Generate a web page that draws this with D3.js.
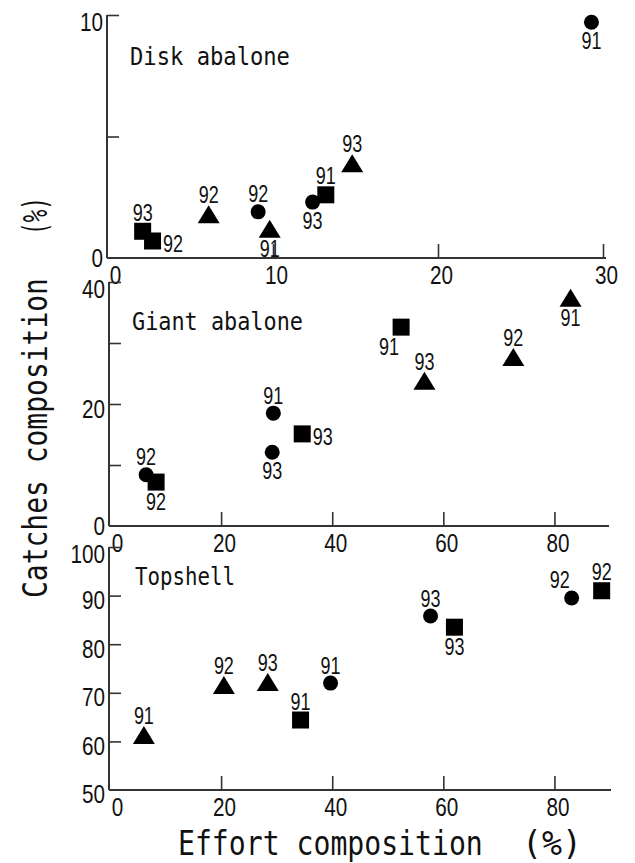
<!DOCTYPE html>
<html>
<head>
<meta charset="utf-8">
<script src="https://cdn.jsdelivr.net/npm/d3@7"></script>
<style>
  html, body { margin: 0; padding: 0; background: #fff; }
  svg { display: block; }
  .tick text, .pt-label { font-family: "Liberation Sans Narrow", "Arial Narrow", "Liberation Sans", sans-serif; fill: #111; }
  .mono { font-family: "DejaVu Sans Mono", "Liberation Mono", monospace; fill: #111; }
</style>
</head>
<body>
<script>
// Disk abalone
const diskEffort = [2.1, 2.7, 6.1, 9.1, 9.8, 12.4, 13.2, 14.8, 29.3];
const diskCatch  = [1.1, 0.7, 1.8, 1.9, 1.2, 2.3, 2.6, 3.9, 9.7];
const diskYear   = [93, 92, 92, 92, 91, 93, 91, 93, 91];
const diskSymbol = ["square", "square", "triangle", "circle", "triangle", "circle", "square", "triangle", "circle"];
const diskPlace  = ["n", "e", "n", "n", "s", "s", "n", "n", "s"];

// Giant abalone
const giantEffort = [6.5, 8.3, 29.4, 29.2, 34.6, 52.4, 56.6, 72.6, 82.9];
const giantCatch  = [8.4, 7.2, 18.5, 12.1, 15.1, 32.6, 23.8, 27.7, 37.4];
const giantYear   = [92, 92, 91, 93, 93, 91, 93, 92, 91];
const giantSymbol = ["circle", "square", "circle", "circle", "square", "square", "triangle", "triangle", "triangle"];
const giantPlace  = ["n", "s", "n", "s", "e", "sw", "n", "n", "s"];

// Topshell
const topEffort = [6.1, 20.5, 28.4, 34.3, 39.7, 57.7, 62.0, 83.1, 88.5];
const topCatch  = [61.3, 71.6, 72.2, 64.4, 72.0, 85.8, 83.5, 89.5, 91.0];
const topYear   = [91, 92, 93, 91, 91, 93, 93, 92, 92];
const topSymbol = ["triangle", "triangle", "triangle", "square", "circle", "circle", "square", "circle", "square"];
const topPlace  = ["n", "n", "n", "n", "n", "n", "s", "nw", "n"];

// Axis ticks and labelled tick values
const diskXTicks = [0, 10, 20, 30], diskYTicks = [0, 5, 10], diskYLabels = [0, 10];
const giantXTicks = [0, 20, 40, 60, 80], giantYTicks = [0, 10, 20, 30, 40], giantYLabels = [0, 20, 40];
const topXTicks = [0, 20, 40, 60, 80], topYTicks = [50, 60, 70, 80, 90, 100], topYLabels = [50, 60, 70, 80, 90, 100];

const W = 635, H = 863;
const svg = d3.select("body").append("svg").attr("width", W).attr("height", H);

const panels = [
  { name: "Disk abalone", effort: diskEffort, catches: diskCatch, year: diskYear, symbol: diskSymbol, place: diskPlace,
    xDomain: [0, 30], xRange: [108, 603], xEnd: 606, yDomain: [0, 10], yRange: [258, 15],
    xTicks: diskXTicks, yTicks: diskYTicks, yLabels: diskYLabels,
    title: { x: 130, y: 65, len: 160 } },
  { name: "Giant abalone", effort: giantEffort, catches: giantCatch, year: giantYear, symbol: giantSymbol, place: giantPlace,
    xDomain: [0, 90], xRange: [110, 610], xEnd: 609, yDomain: [0, 40], yRange: [526, 282],
    xTicks: giantXTicks, yTicks: giantYTicks, yLabels: giantYLabels,
    title: { x: 132, y: 330, len: 171 } },
  { name: "Topshell", effort: topEffort, catches: topCatch, year: topYear, symbol: topSymbol, place: topPlace,
    xDomain: [0, 90], xRange: [110, 610], xEnd: 611, yDomain: [50, 100], yRange: [790, 547],
    xTicks: topXTicks, yTicks: topYTicks, yLabels: topYLabels,
    title: { x: 135, y: 585, len: 100 } }
];

const axisColor = "#333";
const tickSize = 25, tickCharW = 11.5;
const labelSize = 23, labelCharW = 10, capH = 16.5;
const symSize = { circle: 7.5, square: 8.5, triangle: 9 };

// squeeze a text to a given advance by scaling it along its reading direction
function fitText(sel, x, y, target, rotate) {
  const natural = sel.node().getComputedTextLength();
  const s = target / natural;
  sel.attr("transform", `translate(${x},${y})${rotate ? " rotate(-90)" : ""} scale(${s},1)`);
}

panels.forEach((p, pi) => {
  const x = d3.scaleLinear().domain(p.xDomain).range(p.xRange);
  const y = d3.scaleLinear().domain(p.yDomain).range(p.yRange);
  const g = svg.append("g");
  const x0 = p.xRange[0], y0 = p.yRange[0];

  // axis lines
  g.append("line").attr("x1", x0 - 1).attr("x2", p.xEnd).attr("y1", y0).attr("y2", y0)
    .attr("stroke", axisColor).attr("stroke-width", 2);
  g.append("line").attr("x1", x0 - 1).attr("x2", x0 - 1).attr("y1", y0).attr("y2", p.yRange[1])
    .attr("stroke", axisColor).attr("stroke-width", 2);

  // y ticks (inward) and labels
  const yAxis = d3.axisLeft(y).tickValues(p.yTicks).tickSizeInner(-12).tickSizeOuter(0).tickPadding(4)
    .tickFormat(d => p.yLabels.includes(d) ? d : "");
  const ya = g.append("g").attr("transform", `translate(${x0 - 1},0)`).call(yAxis);
  ya.select(".domain").remove();
  ya.selectAll(".tick line").attr("stroke", axisColor).attr("stroke-width", 1.6)
    .filter(d => d === p.yDomain[0]).remove();
  ya.selectAll(".tick text").attr("font-size", tickSize)
    .attr("dy", d => {
      // baseline offset below the tick: top label sits lower, bottom label higher
      if (d === p.yDomain[1]) return 15;
      if (d === p.yDomain[0]) return pi === 2 ? 12 : 8;
      return 13;
    })
    .filter(function () { return this.textContent.length > 0; })
    .attr("textLength", function () { return this.textContent.length * tickCharW; })
    .attr("lengthAdjust", "spacingAndGlyphs");

  // x ticks (inward) and labels
  const xAxis = d3.axisBottom(x).tickValues(p.xTicks).tickSizeInner(-14).tickSizeOuter(0).tickPadding(8);
  const xa = g.append("g").attr("transform", `translate(0,${y0})`).call(xAxis);
  xa.select(".domain").remove();
  xa.selectAll(".tick line").attr("stroke", axisColor).attr("stroke-width", 1.6)
    .filter(d => d === 0).remove();
  xa.selectAll(".tick text").attr("font-size", tickSize).attr("dy", "0.71em")
    .attr("dx", d => d === 0 ? 7 : 3)
    .attr("textLength", function () { return this.textContent.length * tickCharW; })
    .attr("lengthAdjust", "spacingAndGlyphs");

  // panel title
  const t = g.append("text").attr("class", "mono").attr("font-size", 25).text(p.name);
  fitText(t, p.title.x, p.title.y, p.title.len, false);

  // points
  const pts = p.effort.map((e, i) => ({ e, c: p.catches[i], yr: p.year[i], s: p.symbol[i], pl: p.place[i] }));
  const sym = g.selectAll("g.pt").data(pts).join("g").attr("class", "pt")
    .attr("transform", d => `translate(${x(d.e)},${y(d.c)})`);
  sym.each(function (d) {
    const s = d3.select(this);
    if (d.s === "circle") {
      s.append("circle").attr("r", symSize.circle).attr("fill", "#000");
    } else if (d.s === "square") {
      const h = symSize.square;
      s.append("rect").attr("x", -h).attr("y", -h).attr("width", 2 * h).attr("height", 2 * h).attr("fill", "#000");
    } else {
      const h = symSize.triangle;
      s.append("path").attr("d", `M0,${-h}L${h + 2},${h}L${-h - 2},${h}Z`).attr("fill", "#000");
    }
  });

  // year labels next to each point
  g.selectAll("text.pt-label").data(pts).join("text").attr("class", "pt-label")
    .attr("font-size", labelSize)
    .attr("text-anchor", d => d.pl === "e" ? "start" : "middle")
    .attr("textLength", 2 * labelCharW).attr("lengthAdjust", "spacingAndGlyphs")
    .attr("x", d => {
      const cx = x(d.e), h = symSize[d.s];
      if (d.pl === "e") return cx + h + 2;
      if (d.pl === "sw" || d.pl === "nw") return cx - 12;
      return cx;
    })
    .attr("y", d => {
      const cy = y(d.c), h = symSize[d.s];
      if (d.pl === "e") return cy + capH / 2 + 3;
      if (d.pl === "s" || d.pl === "sw") return cy + h + 2.5 + capH;
      if (d.pl === "nw") return cy - 10;
      return cy - h - 2;
    })
    .text(d => d.yr);
});

// axis titles
fitText(svg.append("text").attr("class", "mono").attr("font-size", 34).text("Catches composition"), 47, 598, 320, true);
fitText(svg.append("text").attr("class", "mono").attr("font-size", 34).text("(%)"), 47, 235, 38, true);
fitText(svg.append("text").attr("class", "mono").attr("font-size", 34).text("Effort composition"), 178, 855, 305, false);
fitText(svg.append("text").attr("class", "mono").attr("font-size", 34).text("(%)"), 522, 855, 60, false);
</script>
</body>
</html>
